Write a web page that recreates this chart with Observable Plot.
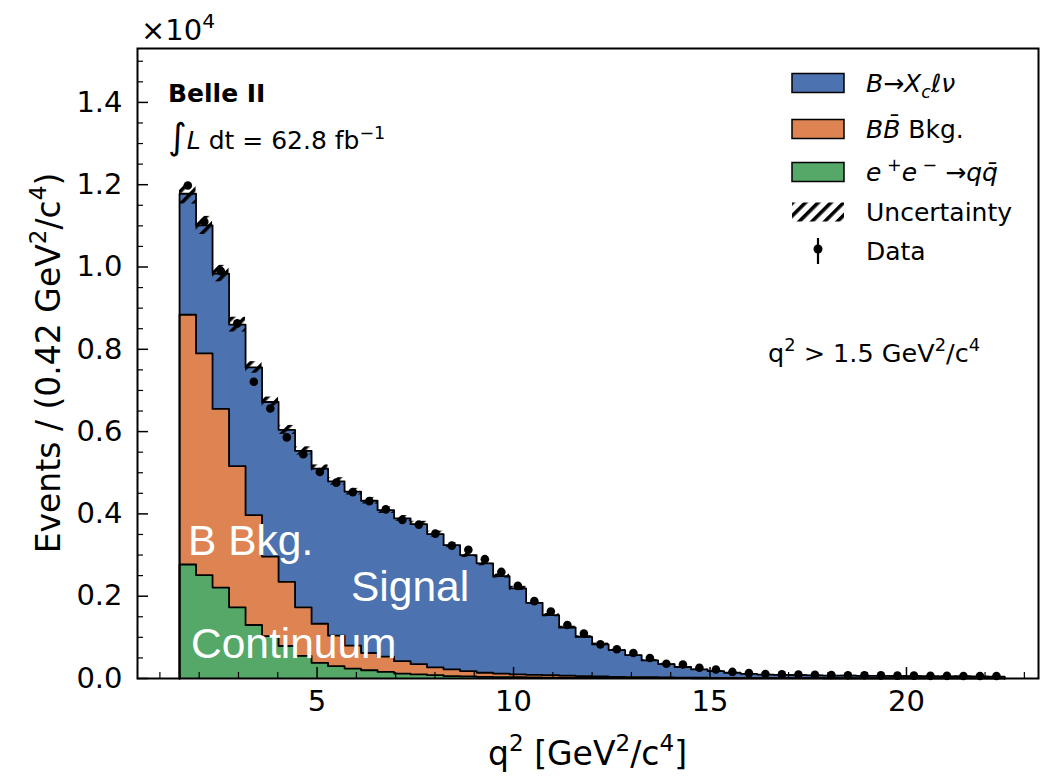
<!DOCTYPE html>
<html><head><meta charset="utf-8">
<script src="https://cdn.jsdelivr.net/npm/d3@7"></script>
<script src="https://cdn.jsdelivr.net/npm/@observablehq/plot@0.6"></script>
<style>body{margin:0;background:#fff}svg{display:block}</style>
</head><body><div id="chart"></div>
<script>
// Histogram binning: 50 bins of width 0.42 GeV^2/c^4 starting at q^2 = 1.5
const binStart = 1.5;
const binWidth = 0.42;
const nBins = 50;

// Stacked components, in units of 10^4 events per bin
const signal = [0.294,0.311,0.329,0.344,0.359,0.376,0.369,0.380,0.377,0.375,
  0.374,0.370,0.356,0.347,0.340,0.324,0.302,0.282,0.266,0.237,
  0.209,0.175,0.146,0.117,0.095,0.078,0.065,0.0535,0.041,0.0325,
  0.026,0.0202,0.0165,0.0127,0.0099,0.0085,0.0079,0.0074,0.0070,0.0066,
  0.0063,0.0060,0.0058,0.0056,0.0055,0.0053,0.0051,0.0050,0.0048,0.0046];
const bbkg = [0.607,0.539,0.434,0.343,0.267,0.193,0.156,0.118,0.095,0.074,
  0.056,0.042,0.037,0.030,0.025,0.019,0.016,0.013,0.010,0.0085,
  0.007,0.0065,0.006,0.005,0.0045,0.0035,0.003,0.0025,0.002,0.0017,
  0.0013,0.0012,0.001,0.0008,0.0007,0.0006,0.0006,0.0005,0.0004,0.0004,
  0.0003,0.0003,0.0002,0.0003,0.0002,0.0002,0.0002,0.0001,0.0001,0.0001];
const continuum = [0.277,0.251,0.221,0.173,0.130,0.103,0.079,0.055,0.038,0.030,
  0.024,0.020,0.016,0.012,0.010,0.008,0.006,0.005,0.004,0.0035,
  0.003,0.0025,0.002,0.002,0.0015,0.0015,0.001,0.001,0.001,0.0008,
  0.0007,0.0006,0.0005,0.0005,0.0004,0.0004,0.0003,0.0003,0.0003,0.0002,
  0.0002,0.0002,0.0002,0.0001,0.0001,0.0001,0.0001,0.0001,0.0001,0.0001];
const dataCounts = [1.198,1.110,0.990,0.863,0.721,0.656,0.586,0.545,0.502,0.476,
  0.453,0.431,0.411,0.385,0.374,0.352,0.323,0.313,0.290,0.259,
  0.225,0.188,0.163,0.130,0.109,0.083,0.071,0.062,0.050,0.036,
  0.034,0.026,0.022,0.016,0.013,0.011,0.010,0.0095,0.009,0.0085,
  0.008,0.008,0.0075,0.007,0.007,0.0065,0.0065,0.006,0.006,0.006];
const uncertainty = [0.025,0.022,0.020,0.018,0.014,0.012,0.011,0.010,0.009,0.009,
  0.008,0.008,0.008,0.007,0.007,0.007,0.006,0.006,0.006,0.005,
  0.005,0.004,0.004,0.003,0.003,0.003,0.002,0.002,0.002,0.002,
  0.001,0.001,0.001,0.001,0.001,0.001,0.001,0.001,0.001,0.001,
  0.001,0.001,0.001,0.001,0.001,0.001,0.001,0.001,0.001,0.001];

const xMajorTicks = [5, 10, 15, 20];
const xMinorTicks = [1,2,3,4,6,7,8,9,11,12,13,14,16,17,18,19,21,22,23];
const yMajorTicks = [0, 0.2, 0.4, 0.6, 0.8, 1.0, 1.2, 1.4];
const yMinorTicks = [0.05,0.1,0.15,0.25,0.3,0.35,0.45,0.5,0.55,0.65,0.7,0.75,0.85,0.9,0.95,1.05,1.1,1.15,1.25,1.3,1.35,1.45,1.5];

const colors = {signal: "#4c72b0", bbkg: "#dd8452", cont: "#55a868"};

// ---- build tables ----
const edges = d3.range(nBins + 1).map(i => binStart + binWidth * i);
const bins = d3.range(nBins).map(i => {
  const cont = continuum[i];
  const bb = cont + bbkg[i];
  const tot = bb + signal[i];
  return {x1: edges[i], x2: edges[i + 1], xc: (edges[i] + edges[i + 1]) / 2,
          cont, bb, tot, data: dataCounts[i], unc: uncertainty[i]};
});
const stepRows = d3.range(nBins + 1).map(i => {
  const b = bins[Math.min(i, nBins - 1)];
  return {x: edges[i], cont: b.cont, bb: b.bb, tot: b.tot};
});
const outline = key => [{x: edges[0], y: 0}, ...stepRows.map(r => ({x: r.x, y: r[key]})), {x: edges[nBins], y: 0}];

const W = 1046, H = 778, mL = 137, mR = 8, mT = 48, mB = 100;
const frameW = W - mL - mR, frameH = H - mT - mB;

const svgEl = Plot.plot({
  width: W, height: H,
  marginLeft: mL, marginRight: mR, marginTop: mT, marginBottom: mB,
  x: {domain: [0.43, 23.36]},
  y: {domain: [0, 1.531]},
  style: {fontFamily: "DejaVu Sans", fontSize: "29px", color: "black", background: "white", overflow: "visible"},
  marks: [
    Plot.areaY(stepRows, {x: "x", y1: 0, y2: "tot", curve: "step-after", fill: colors.signal}),
    Plot.areaY(stepRows, {x: "x", y1: 0, y2: "bb", curve: "step-after", fill: colors.bbkg}),
    Plot.areaY(stepRows, {x: "x", y1: 0, y2: "cont", curve: "step-after", fill: colors.cont}),
    Plot.line(outline("tot"), {x: "x", y: "y", curve: "step-after", stroke: "black", strokeWidth: 1.8}),
    Plot.line(outline("bb"), {x: "x", y: "y", curve: "step-after", stroke: "black", strokeWidth: 1.8}),
    Plot.line(outline("cont"), {x: "x", y: "y", curve: "step-after", stroke: "black", strokeWidth: 1.8}),
    Plot.rectY(bins, {x1: "x1", x2: "x2", y1: d => d.tot - d.unc, y2: d => d.tot + d.unc, fill: "url(#hatch)"}),
    Plot.dot(bins, {x: "xc", y: "data", r: 4.3, fill: "black", stroke: "none"}),
    Plot.tickX(xMajorTicks, {x: d => d, insetTop: frameH - 11, stroke: "black", strokeWidth: 1.5}),
    Plot.tickX(xMinorTicks, {x: d => d, insetTop: frameH - 6, stroke: "black", strokeWidth: 1.2}),
    Plot.tickY(yMajorTicks, {y: d => d, insetRight: frameW - 11, stroke: "black", strokeWidth: 1.5}),
    Plot.tickY(yMinorTicks, {y: d => d, insetRight: frameW - 6, stroke: "black", strokeWidth: 1.2}),
    Plot.axisX({ticks: xMajorTicks, tickSize: 0, tickPadding: 12, label: null, tickFormat: d3.format("d")}),
    Plot.axisY({ticks: yMajorTicks, tickSize: 0, tickPadding: 15, label: null, tickFormat: d3.format(".1f")}),
    Plot.frame({stroke: "black", strokeWidth: 2})
  ]
});
document.getElementById("chart").appendChild(svgEl);

const svg = d3.select(svgEl);
const defs = svg.insert("defs", ":first-child");
const pat = defs.append("pattern").attr("id", "hatch").attr("patternUnits", "userSpaceOnUse")
  .attr("width", 9).attr("height", 9).attr("patternTransform", "rotate(45)");
pat.append("rect").attr("width", 3.6).attr("height", 9).attr("fill", "black");

// helper: rich text with pieces [text, {italic, sup, sub, size}]
function rich(g, x, y, pieces, opts = {}) {
  const t = g.append("text").attr("x", x).attr("y", y)
    .attr("font-family", opts.family || "DejaVu Sans")
    .attr("font-size", opts.size || 25)
    .attr("fill", opts.fill || "black")
    .attr("text-anchor", opts.anchor || "start");
  if (opts.bold) t.attr("font-weight", "bold");
  if (opts.transform) t.attr("transform", opts.transform);
  const fs = opts.size || 25;
  let shift = 0;
  for (const p of pieces) {
    const [txt, st = {}] = Array.isArray(p) ? p : [p, {}];
    const ts = t.append("tspan").text(txt);
    let target = 0;
    if (st.sup) target = -0.42 * fs;
    if (st.sub) target = 0.22 * fs;
    ts.attr("dy", target - shift);
    shift = target;
    if (st.sup || st.sub) ts.attr("font-size", fs * 0.7);
    if (st.size) ts.attr("font-size", st.size);
    if (st.italic) ts.attr("font-style", "italic");
  }
  return t;
}

const ann = svg.append("g");
// multiplier
rich(ann, 141, 40, ["×10", ["4", {sup: true}]], {size: 29});
// experiment labels
rich(ann, 168, 102, ["Belle II"], {size: 25, bold: true});
rich(ann, 168, 149, [["∫", {size: 36}], ["L", {italic: true}], " dt = 62.8 fb", ["−1", {sup: true}]], {size: 25});
rich(ann, 768, 362, ["q", ["2", {sup: true}], " > 1.5 GeV", ["2", {sup: true}], "/c", ["4", {sup: true}]], {size: 25.5});

// white in-plot labels
rich(ann, 188, 555, ["B Bkg."], {size: 42.5, fill: "white", family: "Liberation Sans"});
rich(ann, 351, 601, ["Signal"], {size: 42.5, fill: "white", family: "Liberation Sans"});
rich(ann, 191, 658, ["Continuum"], {size: 42.5, fill: "white", family: "Liberation Sans"});

// axis labels
rich(ann, (mL + W - mR) / 2, 765, ["q", ["2", {sup: true}], " [GeV", ["2", {sup: true}], "/c", ["4", {sup: true}], "]"], {size: 33, anchor: "middle"});
rich(ann, 0, 0, ["Events / (0.42 GeV", ["2", {sup: true}], "/c", ["4", {sup: true}], ")"],
  {size: 33, anchor: "middle", transform: `translate(60,${(mT + H - mB) / 2}) rotate(-90)`});

// legend
const leg = svg.append("g");
const legRows = [
  {type: "patch", color: colors.signal, cy: 83, pieces: [["B", {italic: true}], "→", ["X", {italic: true}], ["c", {sub: true, italic: true}], ["ℓν", {italic: true}]]},
  {type: "patch", color: colors.bbkg, cy: 129, pieces: [["BB̄", {italic: true}], " Bkg."]},
  {type: "patch", color: colors.cont, cy: 172, pieces: [["e", {italic: true}], [" +", {sup: true}], ["e", {italic: true}], [" −", {sup: true}], " →", ["qq̄", {italic: true}]]},
  {type: "hatch", cy: 212, pieces: ["Uncertainty"]},
  {type: "data", cy: 251, pieces: ["Data"]}
];
for (const r of legRows) {
  if (r.type === "patch") {
    leg.append("rect").attr("x", 792).attr("y", r.cy - 9.5).attr("width", 52).attr("height", 19)
      .attr("fill", r.color).attr("stroke", "black").attr("stroke-width", 1.5);
  } else if (r.type === "hatch") {
    leg.append("rect").attr("x", 792).attr("y", r.cy - 9.5).attr("width", 52).attr("height", 19)
      .attr("fill", "url(#hatch)");
  } else {
    leg.append("line").attr("x1", 818).attr("x2", 818).attr("y1", r.cy - 13).attr("y2", r.cy + 13)
      .attr("stroke", "black").attr("stroke-width", 2.2);
    leg.append("circle").attr("cx", 818).attr("cy", r.cy - 2).attr("r", 4.5).attr("fill", "black");
  }
  rich(leg, 866, r.cy + 9, r.pieces, {size: 25});
}
</script>
</body></html>
